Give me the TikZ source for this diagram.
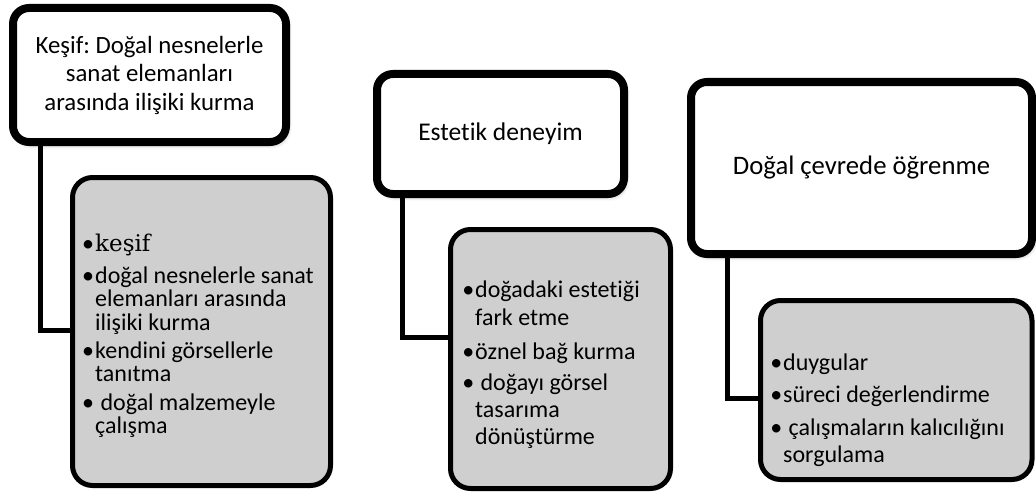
\documentclass[tikz,border=0pt]{standalone}
\usepackage{fontspec}
\setmainfont{Carlito}[Ligatures=NoCommon]
\newfontfamily\serifk{DejaVu Serif}
\usetikzlibrary{shadows.blur}
\definecolor{subgray}{RGB}{208,207,207}
\frenchspacing
\begin{document}
\begin{tikzpicture}[x=1pt,y=-1pt,
  head/.style={draw=black, line width=8pt, rounded corners=16pt, fill=white,
    inner sep=0pt, align=center,
    blur shadow={shadow xshift=2pt, shadow yshift=-3pt, shadow blur radius=4pt, shadow opacity=30}},
  sub/.style={draw=black, line width=5pt, rounded corners=20pt, fill=subgray, inner sep=0pt},
  conn/.style={line width=5pt, line join=miter},
  ln/.style={anchor=base west, inner sep=0pt, font=\fontsize{24}{24}\selectfont}]
\useasboundingbox (0,0) rectangle (1036,495);
% top boxes
\node[head, minimum width=273pt, minimum height=134pt, font=\fontsize{24.8}{28.5}\selectfont] (b1) at (149.5,75)
  {Keşif: Doğal nesnelerle\\sanat elemanları\\arasında ilişiki kurma};
\node[head, minimum width=247pt, minimum height=120pt, font=\fontsize{25.5}{28}\selectfont] (b2) at (500.5,134) {Estetik deneyim};
\node[head, minimum width=341pt, minimum height=172pt, font=\fontsize{26.7}{30}\selectfont] (b3) at (861.5,168) {Doğal çevrede öğrenme};
% sub boxes
\node[sub, minimum width=258pt, minimum height=308pt] (g1) at (201.5,331.5) {};
\node[sub, minimum width=220pt, minimum height=259pt] (g2) at (560.5,359) {};
\node[sub, minimum width=271.5pt, minimum height=179pt] (g3) at (896.25,390) {};
% connectors
\coordinate (k1) at (40,330);
\coordinate (k2) at (402,337);
\coordinate (k3) at (727,398);
\draw[conn] (b1.south -| k1) -- (k1) -- (k1 -| g1.west);
\draw[conn] (b2.south -| k2) -- (k2) -- (k2 -| g2.west);
\draw[conn] (b3.south -| k3) -- (k3) -- (k3 -| g3.west);
% texts box 1
\node[ln] (t11) at (95,251) {\llap{•\hspace{1pt}}\serifk\fontsize{23}{24}\selectfont keşif};
\node[ln] (t12) at (95,283) {\llap{•\hspace{1pt}}doğal nesnelerle sanat};
\node[ln] (t13) at (95,306) {elemanları arasında};
\node[ln] (t14) at (95,330) {ilişiki kurma};
\node[ln] (t15) at (95,358) {\llap{•\hspace{1pt}}kendini görsellerle};
\node[ln] (t16) at (95,381) {tanıtma};
\node[ln] (t17) at (95,410) {\llap{•\hspace{1pt}} doğal malzemeyle};
\node[ln] (t18) at (95,433) {çalışma};
% texts box 2
\node[ln] (t21) at (475,297) {\llap{•\hspace{1pt}}doğadaki estetiği};
\node[ln] (t22) at (475,325) {fark etme};
\node[ln] (t23) at (475,359) {\llap{•\hspace{1pt}}öznel bağ kurma};
\node[ln] (t24) at (475,390) {\llap{•\hspace{1pt}} doğayı görsel};
\node[ln] (t25) at (475,417) {tasarıma};
\node[ln] (t26) at (475,444) {dönüştürme};
% texts box 3
\node[ln] (t31) at (783,370) {\llap{•\hspace{1pt}}duygular};
\node[ln] (t32) at (783,402) {\llap{•\hspace{1pt}}süreci değerlendirme};
\node[ln] (t33) at (783,435) {\llap{•\hspace{1pt}} çalışmaların kalıcılığını};
\node[ln] (t34) at (783,462) {sorgulama};
\end{tikzpicture}
\end{document}
